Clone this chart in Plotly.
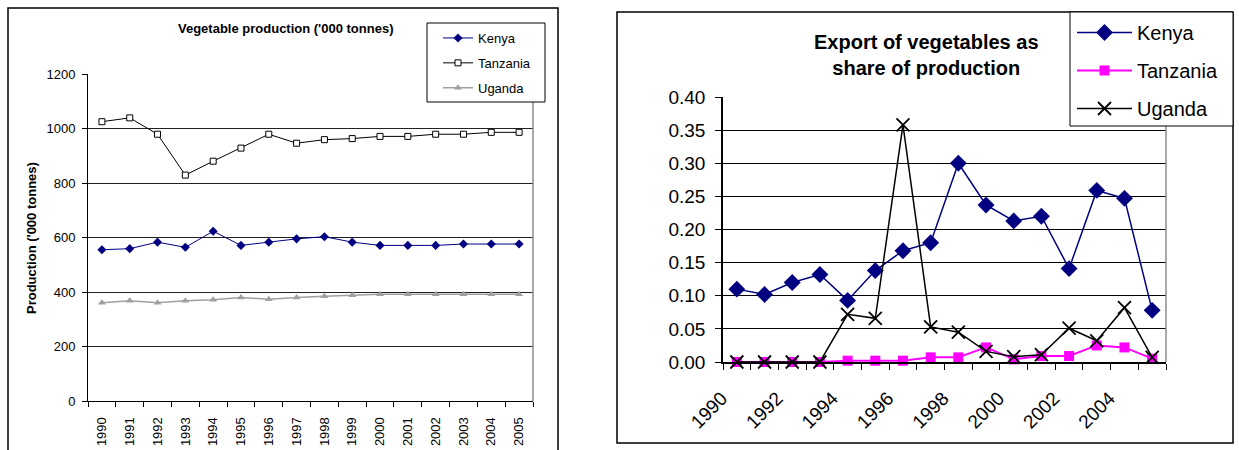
import plotly.graph_objects as go

years = list(range(1990, 2006))
series_names = ["Kenya", "Tanzania", "Uganda"]

# Vegetable production ('000 tonnes)
kenya_prod = [555, 559, 583, 564, 623, 571, 583, 595, 603, 583, 571, 571, 571, 576, 576, 576]
tanzania_prod = [1025, 1039, 979, 829, 880, 928, 979, 946, 959, 963, 971, 971, 979, 979, 986, 986]
uganda_prod = [361, 368, 361, 368, 372, 380, 373, 380, 384, 388, 392, 392, 392, 392, 392, 392]

# Export of vegetables as share of production
kenya_share = [0.110, 0.102, 0.120, 0.132, 0.093, 0.138, 0.168, 0.180, 0.300, 0.237, 0.213, 0.220, 0.141, 0.259, 0.247, 0.078]
tanzania_share = [0.0, 0.0, 0.0, 0.0, 0.002, 0.002, 0.002, 0.007, 0.007, 0.022, 0.004, 0.009, 0.009, 0.025, 0.022, 0.005]
uganda_share = [0.0, 0.0, 0.0, 0.0, 0.072, 0.066, 0.358, 0.053, 0.045, 0.016, 0.008, 0.011, 0.051, 0.032, 0.082, 0.007]

left_title = "Vegetable production ('000 tonnes)"
left_ytitle = "Production ('000 tonnes)"
right_title = "Export of vegetables as<br>share of production"
right_tick_years = years[::2]

W, H = 1239, 450
FONT = "Arial, 'Liberation Sans', sans-serif"


def fx(p):
    return p / W


def fy(p):
    return 1 - p / H


fig = go.Figure()

# ---- left chart ----
fig.add_trace(go.Scatter(
    x=years, y=kenya_prod, name=series_names[0], mode="lines+markers",
    line=dict(color="#000080", width=1),
    marker=dict(symbol="diamond", size=7, color="#000080"),
    xaxis="x", yaxis="y", legend="legend", legendgroup="a1", cliponaxis=False))
fig.add_trace(go.Scatter(
    x=years, y=tanzania_prod, name=series_names[1], mode="lines+markers",
    line=dict(color="#000000", width=1),
    marker=dict(symbol="square", size=6, color="#ffffff", line=dict(color="#000000", width=1)),
    xaxis="x", yaxis="y", legend="legend", legendgroup="a2", cliponaxis=False))
fig.add_trace(go.Scatter(
    x=years, y=uganda_prod, name=series_names[2], mode="lines+markers",
    line=dict(color="#A0A0A0", width=1.5),
    marker=dict(symbol="triangle-up", size=7, color="#A0A0A0"),
    xaxis="x", yaxis="y", legend="legend", legendgroup="a3", cliponaxis=False))

# ---- right chart ----
fig.add_trace(go.Scatter(
    x=years, y=kenya_share, name=series_names[0], mode="lines+markers",
    line=dict(color="#000080", width=1.5),
    marker=dict(symbol="diamond", size=13, color="#000080"),
    xaxis="x2", yaxis="y2", legend="legend2", legendgroup="b1", cliponaxis=False))
fig.add_trace(go.Scatter(
    x=years, y=tanzania_share, name=series_names[1], mode="lines+markers",
    line=dict(color="#FF00FF", width=2),
    marker=dict(symbol="square", size=10, color="#FF00FF"),
    xaxis="x2", yaxis="y2", legend="legend2", legendgroup="b2", cliponaxis=False))
fig.add_trace(go.Scatter(
    x=years, y=uganda_share, name=series_names[2], mode="lines+markers",
    line=dict(color="#000000", width=1.5),
    marker=dict(symbol="x-thin", size=13, color="#000000", line=dict(color="#000000", width=1.8)),
    xaxis="x2", yaxis="y2", legend="legend2", legendgroup="b3", cliponaxis=False))

shapes = [
    # outer chart borders
    dict(type="rect", xref="paper", yref="paper", x0=fx(8), x1=fx(558), y0=fy(452), y1=fy(8),
         line=dict(color="#000000", width=1.5), layer="below"),
    dict(type="rect", xref="paper", yref="paper", x0=fx(617), x1=fx(1233), y0=fy(443), y1=fy(12),
         line=dict(color="#000000", width=1.5), layer="below"),
    # plot area right edges (gray)
    dict(type="line", xref="x domain", yref="y domain", x0=1, x1=1, y0=0, y1=1,
         line=dict(color="#8c8c8c", width=1.5)),
    dict(type="line", xref="x2 domain", yref="y2 domain", x0=1, x1=1, y0=0, y1=1,
         line=dict(color="#8c8c8c", width=1.5)),
    # legend boxes
    dict(type="rect", xref="paper", yref="paper", x0=fx(427), x1=fx(545), y0=fy(102), y1=fy(23),
         line=dict(color="#000000", width=1), fillcolor="#ffffff", layer="above"),
    dict(type="rect", xref="paper", yref="paper", x0=fx(1070), x1=fx(1233), y0=fy(126), y1=fy(12),
         line=dict(color="#000000", width=1), fillcolor="#ffffff", layer="above"),
]

annotations = [
    dict(text="<b>" + left_title + "</b>", xref="paper", yref="paper", x=fx(285), y=fy(29),
         xanchor="center", yanchor="middle", showarrow=False, font=dict(size=13, color="#000000", family=FONT)),
    dict(text="<b>" + left_ytitle + "</b>", xref="paper", yref="paper", x=fx(32), y=fy(238),
         xanchor="center", yanchor="middle", textangle=-90, showarrow=False,
         font=dict(size=13, color="#000000", family=FONT)),
    dict(text="<b>" + right_title + "</b>", xref="paper", yref="paper", x=fx(926), y=fy(55),
         xanchor="center", yanchor="middle", showarrow=False,
         font=dict(size=20, color="#000000", family=FONT)),
]

fig.update_layout(
    width=W, height=H,
    margin=dict(l=0, r=0, t=0, b=0, autoexpand=False),
    paper_bgcolor="#ffffff", plot_bgcolor="#ffffff",
    font=dict(family=FONT, color="#000000"),
    shapes=shapes, annotations=annotations,
    xaxis=dict(domain=[fx(88), fx(533)], range=[1989.5, 2005.5], anchor="y", automargin=False,
               tickmode="array", tickvals=years, ticktext=[str(y) for y in years],
               tickangle=-90, ticks="", ticklabelstandoff=10,
               tickfont=dict(size=13, color="#000000"),
               showline=True, linecolor="#000000", linewidth=1, showgrid=False, zeroline=False,
               minor=dict(tick0=1989.5, dtick=1, ticks="outside", ticklen=5, tickcolor="#000000", showgrid=False)),
    yaxis=dict(domain=[fy(401), fy(74)], range=[0, 1200], anchor="x", dtick=200, automargin=False,
               ticks="outside", ticklen=5, tickcolor="#000000", ticklabelstandoff=4,
               tickfont=dict(size=13, color="#000000"),
               showline=True, linecolor="#000000", linewidth=1,
               showgrid=True, gridcolor="#222222", gridwidth=1, zeroline=False),
    xaxis2=dict(domain=[fx(723), fx(1166)], range=[1989.5, 2005.5], anchor="y2", automargin=False,
                tickmode="array", tickvals=right_tick_years, ticktext=[str(y) for y in right_tick_years],
                tickangle=-45, ticks="", ticklabelstandoff=16, ticklabelshift=-15,
                tickfont=dict(size=19, color="#000000"),
                showline=True, linecolor="#000000", linewidth=1.5, showgrid=False, zeroline=False,
                minor=dict(tick0=1989.5, dtick=1, ticks="outside", ticklen=6, tickcolor="#000000", showgrid=False)),
    yaxis2=dict(domain=[fy(362), fy(97)], range=[0, 0.4], anchor="x2", dtick=0.05, tickformat=".2f",
                automargin=False,
                ticks="outside", ticklen=6, tickcolor="#000000", ticklabelstandoff=6,
                tickfont=dict(size=19, color="#000000"),
                showline=True, linecolor="#000000", linewidth=1.5,
                showgrid=True, gridcolor="#000000", gridwidth=1, zeroline=False),
    legend=dict(x=fx(438), y=fy(23), xanchor="left", yanchor="top",
                bgcolor="rgba(0,0,0,0)", borderwidth=0, font=dict(size=13, color="#000000"),
                tracegroupgap=5, itemwidth=30),
    legend2=dict(x=fx(1072), y=fy(13), xanchor="left", yanchor="top",
                 bgcolor="rgba(0,0,0,0)", borderwidth=0, font=dict(size=20, color="#000000"),
                 tracegroupgap=9, itemwidth=55),
)

fig.write_html("out.html", config={"displayModeBar": False},
               post_script="document.body.style.margin='0';document.body.style.overflow='hidden';")
